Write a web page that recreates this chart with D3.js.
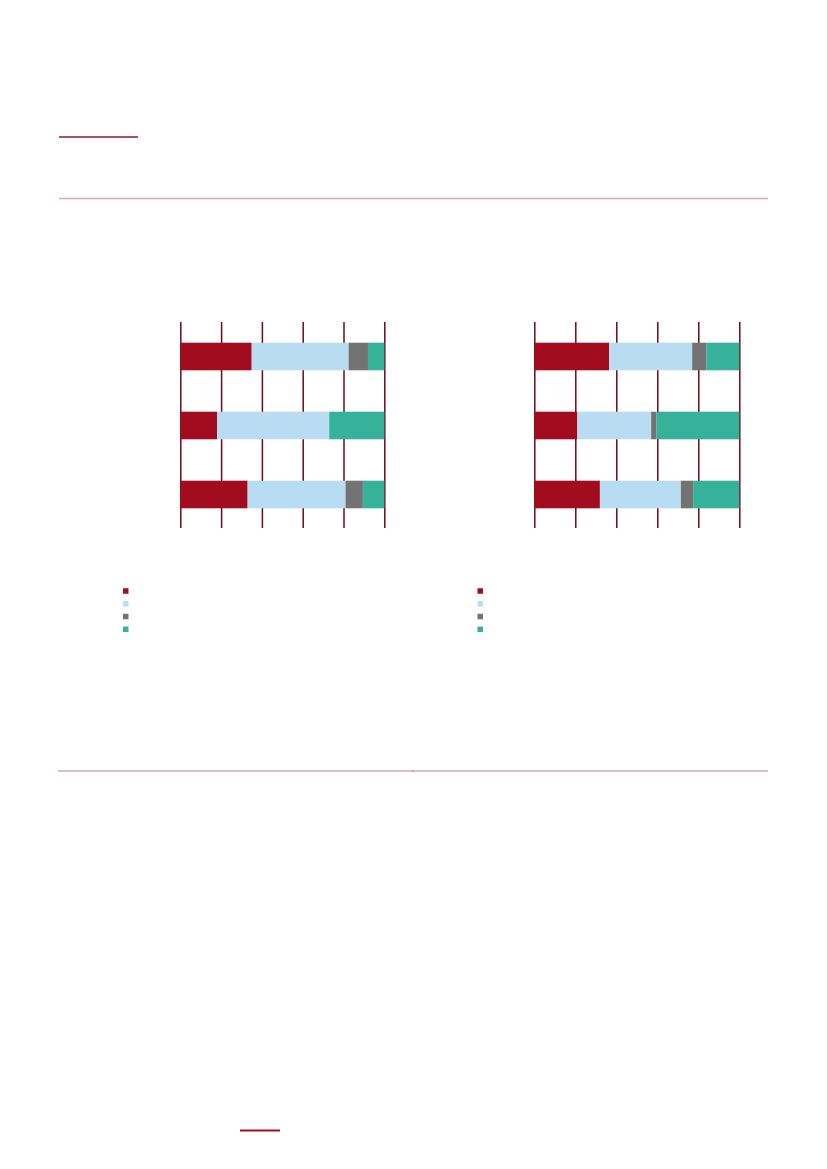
<!DOCTYPE html>
<html>
<head>
<meta charset="utf-8">
<script src="https://cdn.jsdelivr.net/npm/d3@7"></script>
<style>
  html, body { margin: 0; padding: 0; background: #fff; }
  svg { display: block; }
</style>
</head>
<body>
<div id="page"></div>
<script>
// values, in percent of each bar
const categories = ["row1", "row2", "row3"]
const seriesKeys = ["s1", "s2", "s3", "s4"]
const colors = ["#a10c1f", "#b8ddf3", "#737373", "#36b29a"]

const leftS1 = [35, 18, 33]
const leftS2 = [47.5, 55, 48]
const leftS3 = [9.5, 0, 8.5]
const leftS4 = [8, 27, 10.5]

const rightS1 = [36.5, 21, 32]
const rightS2 = [40.5, 36, 39.5]
const rightS3 = [7, 2.5, 6]
const rightS4 = [16, 40.5, 22.5]

const tickValues = [0, 20, 40, 60, 80, 100]

const W = 827, H = 1169

const svg = d3.select("#page").append("svg")
    .attr("width", W)
    .attr("height", H)

// page rules
svg.append("line")
    .attr("x1", 59).attr("x2", 138).attr("y1", 137).attr("y2", 137)
    .attr("stroke", "#8c1a2c").attr("stroke-width", 1.5)

svg.append("line")
    .attr("x1", 59).attr("x2", 768).attr("y1", 198.5).attr("y2", 198.5)
    .attr("stroke", "#d8a9b2").attr("stroke-width", 1.5)

svg.append("line")
    .attr("x1", 58).attr("x2", 768).attr("y1", 771).attr("y2", 771)
    .attr("stroke", "#d3a6ae").attr("stroke-width", 1.5)

svg.append("line")
    .attr("x1", 413).attr("x2", 413).attr("y1", 769.5).attr("y2", 772.5)
    .attr("stroke", "#b8a0a4").attr("stroke-width", 1)

svg.append("line")
    .attr("x1", 240).attr("x2", 280).attr("y1", 1130.5).attr("y2", 1130.5)
    .attr("stroke", "#a10c1f").attr("stroke-width", 2)

function buildRows(s1, s2, s3, s4) {
    return categories.map((c, i) => ({ cat: c, s1: s1[i], s2: s2[i], s3: s3[i], s4: s4[i] }))
}

function drawChart(rows, x0, x1, legendX) {
    const x = d3.scaleLinear().domain([0, 100]).range([x0, x1])
    const y = d3.scaleBand().domain(categories).range([322, 529])
        .paddingInner(0.6).paddingOuter(0.3)

    const g = svg.append("g")

    // vertical gridlines behind the bars
    const axis = d3.axisBottom(x).tickValues(tickValues).tickSize(206).tickFormat("")
    const ax = g.append("g").attr("transform", "translate(0,322)").call(axis)
    ax.select(".domain").remove()
    ax.selectAll(".tick line").attr("stroke", "#6a0a16").attr("stroke-width", 1.5)

    const stack = d3.stack().keys(seriesKeys)(rows)
    const color = d3.scaleOrdinal().domain(seriesKeys).range(colors)

    g.selectAll("g.layer")
        .data(stack)
        .join("g")
        .attr("class", "layer")
        .attr("fill", d => color(d.key))
        .selectAll("rect")
        .data(d => d)
        .join("rect")
        .attr("x", d => x(d[0]))
        .attr("y", d => y(d.data.cat))
        .attr("width", d => Math.max(0, x(d[1]) - x(d[0])))
        .attr("height", y.bandwidth())

    // legend swatches
    const ly = d3.scalePoint().domain(seriesKeys).range([591, 629.3])
    g.selectAll("rect.sw")
        .data(seriesKeys)
        .join("rect")
        .attr("class", "sw")
        .attr("x", legendX)
        .attr("y", d => ly(d) - 2.75)
        .attr("width", 5.5)
        .attr("height", 5.5)
        .attr("fill", d => color(d))
}

drawChart(buildRows(leftS1, leftS2, leftS3, leftS4), 180.3, 384.3, 123)
drawChart(buildRows(rightS1, rightS2, rightS3, rightS4), 534.3, 739.3, 477.5)
</script>
</body>
</html>
